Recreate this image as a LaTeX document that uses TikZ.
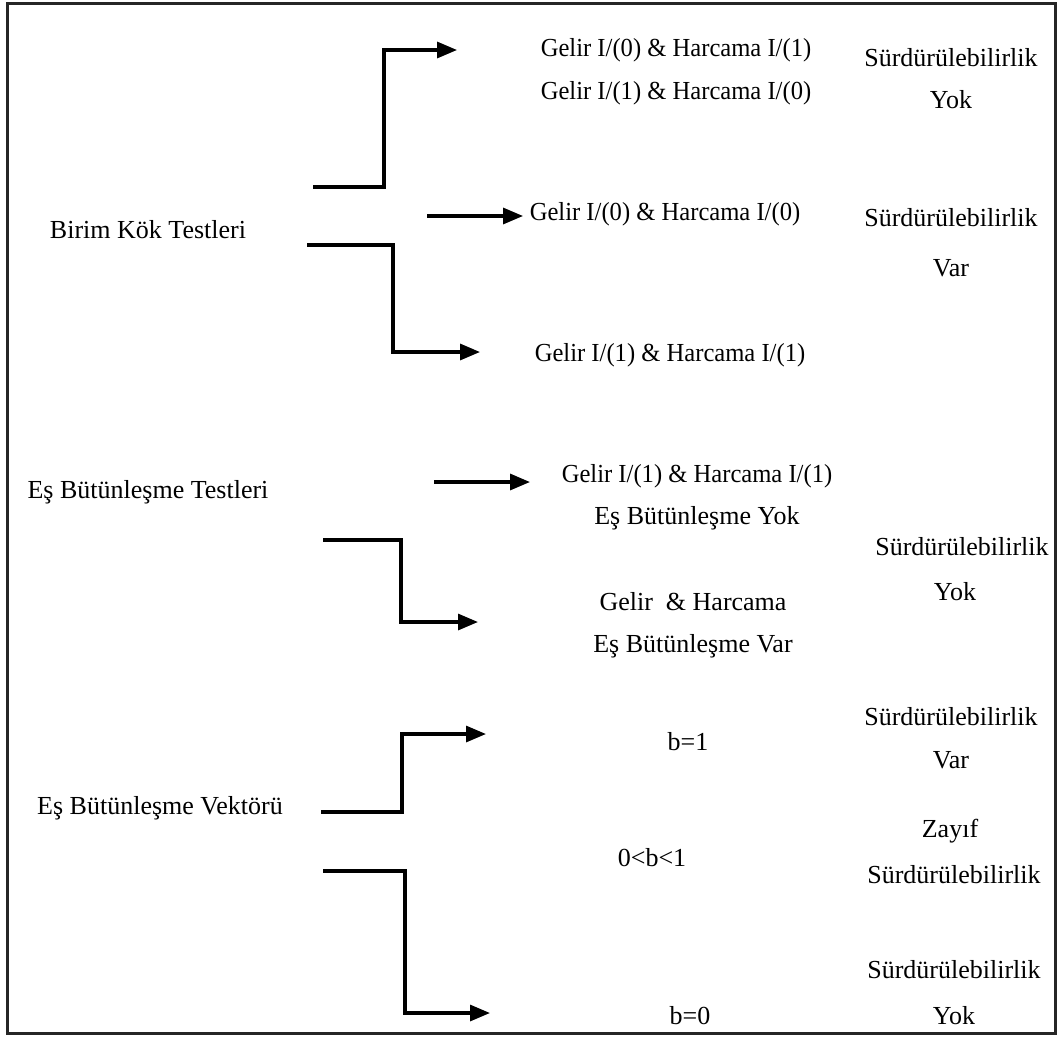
\documentclass[tikz,border=0pt]{standalone}
\usepackage{fontspec}
\setmainfont{Liberation Serif}
\newfontfamily\narrowserif[FakeStretch=0.946]{Liberation Serif}
\usetikzlibrary{arrows.meta}
\begin{document}
\begin{tikzpicture}[x=1pt,y=-1pt,
  lbl/.style={anchor=base,inner sep=0pt,font=\fontsize{26}{30}\selectfont},
  glbl/.style={lbl,font=\narrowserif\fontsize{26}{30}\selectfont},
  conn/.style={line width=3.2pt},
  arr/.style={conn,-{Triangle[length=20pt,width=16pt]}}]
\useasboundingbox (0,0) rectangle (1059,1036);
\draw[line width=3pt,black!85] (7,3) rectangle (1055,1033);

% --- Birim kok testleri ---
\node[lbl] (bkt) at (148,238) {Birim Kök Testleri};
\node[glbl] (g1a) at (676,56) {Gelir I/(0) \& Harcama I/(1)};
\node[glbl] (g1b) at (676,99) {Gelir I/(1) \& Harcama I/(0)};
\node[lbl] (s1) at (951,66) {Sürdürülebilirlik};
\node[lbl] (y1) at (951,108) {Yok};
\node[glbl] (g2) at (665,220) {Gelir I/(0) \& Harcama I/(0)};
\node[lbl] (s2) at (951,226) {Sürdürülebilirlik};
\node[lbl] (v2) at (951,276) {Var};
\node[glbl] (g3) at (670,361) {Gelir I/(1) \& Harcama I/(1)};

\coordinate (a1s) at (313,187);
\coordinate (a1e) at (457,50);
\coordinate (a2s) at (427,216);
\coordinate (a2e) at (523,216);
\coordinate (a3s) at (307,245);
\coordinate (a3e) at (480,352);
\draw[arr] (a1s) -- ++(71,0) |- (a1e);
\draw[arr] (a2s) -- (a2e);
\draw[arr] (a3s) -- ++(86,0) |- (a3e);

% --- Es butunlesme testleri ---
\node[lbl] (ebt) at (148,498) {Eş Bütünleşme Testleri};
\node[glbl] (g4) at (697,482) {Gelir I/(1) \& Harcama I/(1)};
\node[lbl] (eby) at (697,524) {Eş Bütünleşme Yok};
\node[lbl] (s4) at (962,555) {Sürdürülebilirlik};
\node[lbl] (y4) at (955,600) {Yok};
\node[lbl] (g5) at (693,610) {Gelir \ \& Harcama};
\node[lbl] (ebv) at (693,652) {Eş Bütünleşme Var};

\coordinate (a4s) at (434,482);
\coordinate (a4e) at (530,482);
\coordinate (a5s) at (323,540);
\coordinate (a5e) at (478,622);
\draw[arr] (a4s) -- (a4e);
\draw[arr] (a5s) -- ++(78,0) |- (a5e);

% --- Es butunlesme vektoru ---
\node[lbl] (ebvk) at (160,814) {Eş Bütünleşme Vektörü};
\node[lbl] (b1) at (688,750) {b=1};
\node[lbl] (s6) at (951,725) {Sürdürülebilirlik};
\node[lbl] (v6) at (951,768) {Var};
\node[lbl] (b01) at (652,866) {0<b<1};
\node[lbl] (zy) at (950,837) {Zayıf};
\node[lbl] (s7) at (954,883) {Sürdürülebilirlik};
\node[lbl] (b0) at (690,1024) {b=0};
\node[lbl] (s8) at (954,978) {Sürdürülebilirlik};
\node[lbl] (y8) at (954,1024) {Yok};

\coordinate (a6s) at (321,812);
\coordinate (a6e) at (486,734);
\coordinate (a7s) at (323,871);
\coordinate (a7e) at (490,1013);
\draw[arr] (a6s) -- ++(81,0) |- (a6e);
\draw[arr] (a7s) -- ++(82,0) |- (a7e);
\end{tikzpicture}
\end{document}
